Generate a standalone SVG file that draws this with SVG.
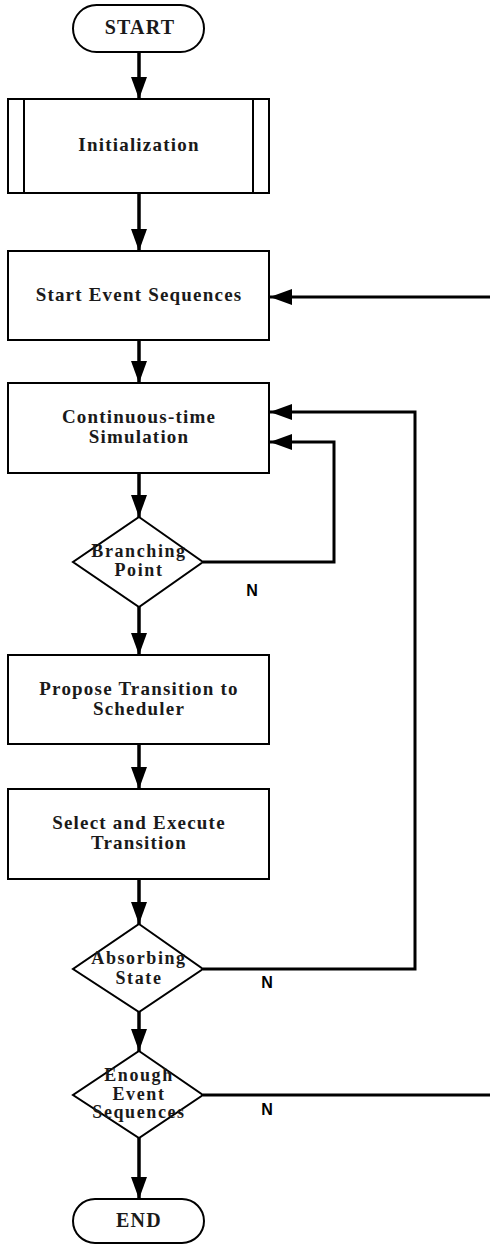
<svg xmlns="http://www.w3.org/2000/svg" width="490" height="1245" viewBox="0 0 490 1245">
  <style>
    .shape { fill: #ffffff; stroke: #000000; stroke-width: 2; }
    .inner { fill: none; stroke: #000000; stroke-width: 2; }
    .label { font-family: "Liberation Serif", "Times New Roman", serif; font-weight: bold; font-size: 19px; letter-spacing: 1.2px; fill: #1a1a1a; text-anchor: middle; }
    .dlabel { font-size: 18px; letter-spacing: 1.6px; }
    .term { font-size: 20px; letter-spacing: 1.2px; }
    .flow { fill: none; stroke: #000000; stroke-width: 3.5; marker-end: url(#head); }
    .backArrow { fill: none; stroke: #000000; stroke-width: 3; marker-end: url(#head); }
    .no { font-family: "Liberation Sans", Arial, sans-serif; font-weight: bold; font-size: 16px; fill: #000000; text-anchor: middle; }
  </style>
  <defs>
    <marker id="head" markerUnits="userSpaceOnUse" markerWidth="24" markerHeight="18" refX="22" refY="8" orient="auto">
      <path d="M0,0 L22,8 L0,16 Z" fill="#000000"/>
    </marker>
  </defs>

  <rect width="490" height="1245" fill="#ffffff"/>

  <!-- connectors -->
  <g id="connectors">
    <line class="flow" x1="139" y1="52" x2="139" y2="99"/>
    <line class="flow" x1="139" y1="193" x2="139" y2="251"/>
    <line class="flow" x1="139" y1="340" x2="139" y2="383"/>
    <line class="flow" x1="139" y1="473" x2="139" y2="517"/>
    <line class="flow" x1="139" y1="607" x2="139" y2="655"/>
    <line class="flow" x1="139" y1="744" x2="139" y2="789"/>
    <line class="flow" x1="139" y1="879" x2="139" y2="924"/>
    <line class="flow" x1="139" y1="1012" x2="139" y2="1051"/>
    <line class="flow" x1="139" y1="1138" x2="139" y2="1199"/>
    <!-- Branching Point: N back to simulation -->
    <path class="backArrow" d="M203,562 H334 V442 H270"/>
    <!-- Absorbing State: N back to simulation -->
    <path class="backArrow" d="M203,969 H415 V412 H270"/>
    <!-- Enough Event Sequences: N back to start of sequences -->
    <path class="backArrow" d="M203,1095 H494 V297 H270"/>
    <text class="no" x="252" y="596">N</text>
    <text class="no" x="267" y="988">N</text>
    <text class="no" x="267" y="1115">N</text>
  </g>

  <g id="start">
    <rect class="shape" x="73" y="5" width="131" height="47" rx="23.5" ry="23.5"/>
    <text class="label term" x="140" y="34">START</text>
  </g>

  <g id="initialization">
    <rect class="shape" x="8" y="99" width="261" height="94"/>
    <line class="inner" x1="24" y1="99" x2="24" y2="193"/>
    <line class="inner" x1="253" y1="99" x2="253" y2="193"/>
    <text class="label" x="139" y="151">Initialization</text>
  </g>

  <g id="start-event-sequences">
    <rect class="shape" x="8" y="251" width="261" height="89"/>
    <text class="label" x="139" y="301">Start Event Sequences</text>
  </g>

  <g id="continuous-time-simulation">
    <rect class="shape" x="8" y="383" width="261" height="90"/>
    <text class="label" x="139" y="423">Continuous-time</text>
    <text class="label" x="139" y="443">Simulation</text>
  </g>

  <g id="branching-point">
    <polygon class="shape" points="139,517 203,562 139,607 73,562"/>
    <text class="label dlabel" x="139" y="557">Branching</text>
    <text class="label dlabel" x="139" y="576">Point</text>
  </g>

  <g id="propose-transition">
    <rect class="shape" x="8" y="655" width="261" height="89"/>
    <text class="label" x="139" y="695">Propose Transition to</text>
    <text class="label" x="139" y="715">Scheduler</text>
  </g>

  <g id="select-execute">
    <rect class="shape" x="8" y="789" width="261" height="90"/>
    <text class="label" x="139" y="829">Select and Execute</text>
    <text class="label" x="139" y="849">Transition</text>
  </g>

  <g id="absorbing-state">
    <polygon class="shape" points="139,924 203,969 139,1012 73,969"/>
    <text class="label dlabel" x="139" y="964">Absorbing</text>
    <text class="label dlabel" x="139" y="984">State</text>
  </g>

  <g id="enough-event-sequences">
    <polygon class="shape" points="139,1051 203,1095 139,1138 73,1095"/>
    <text class="label dlabel" x="139" y="1081">Enough</text>
    <text class="label dlabel" x="139" y="1100">Event</text>
    <text class="label dlabel" x="139" y="1118">Sequences</text>
  </g>

  <g id="end">
    <rect class="shape" x="73" y="1199" width="131" height="44" rx="22" ry="22"/>
    <text class="label term" x="139" y="1227">END</text>
  </g>
</svg>
